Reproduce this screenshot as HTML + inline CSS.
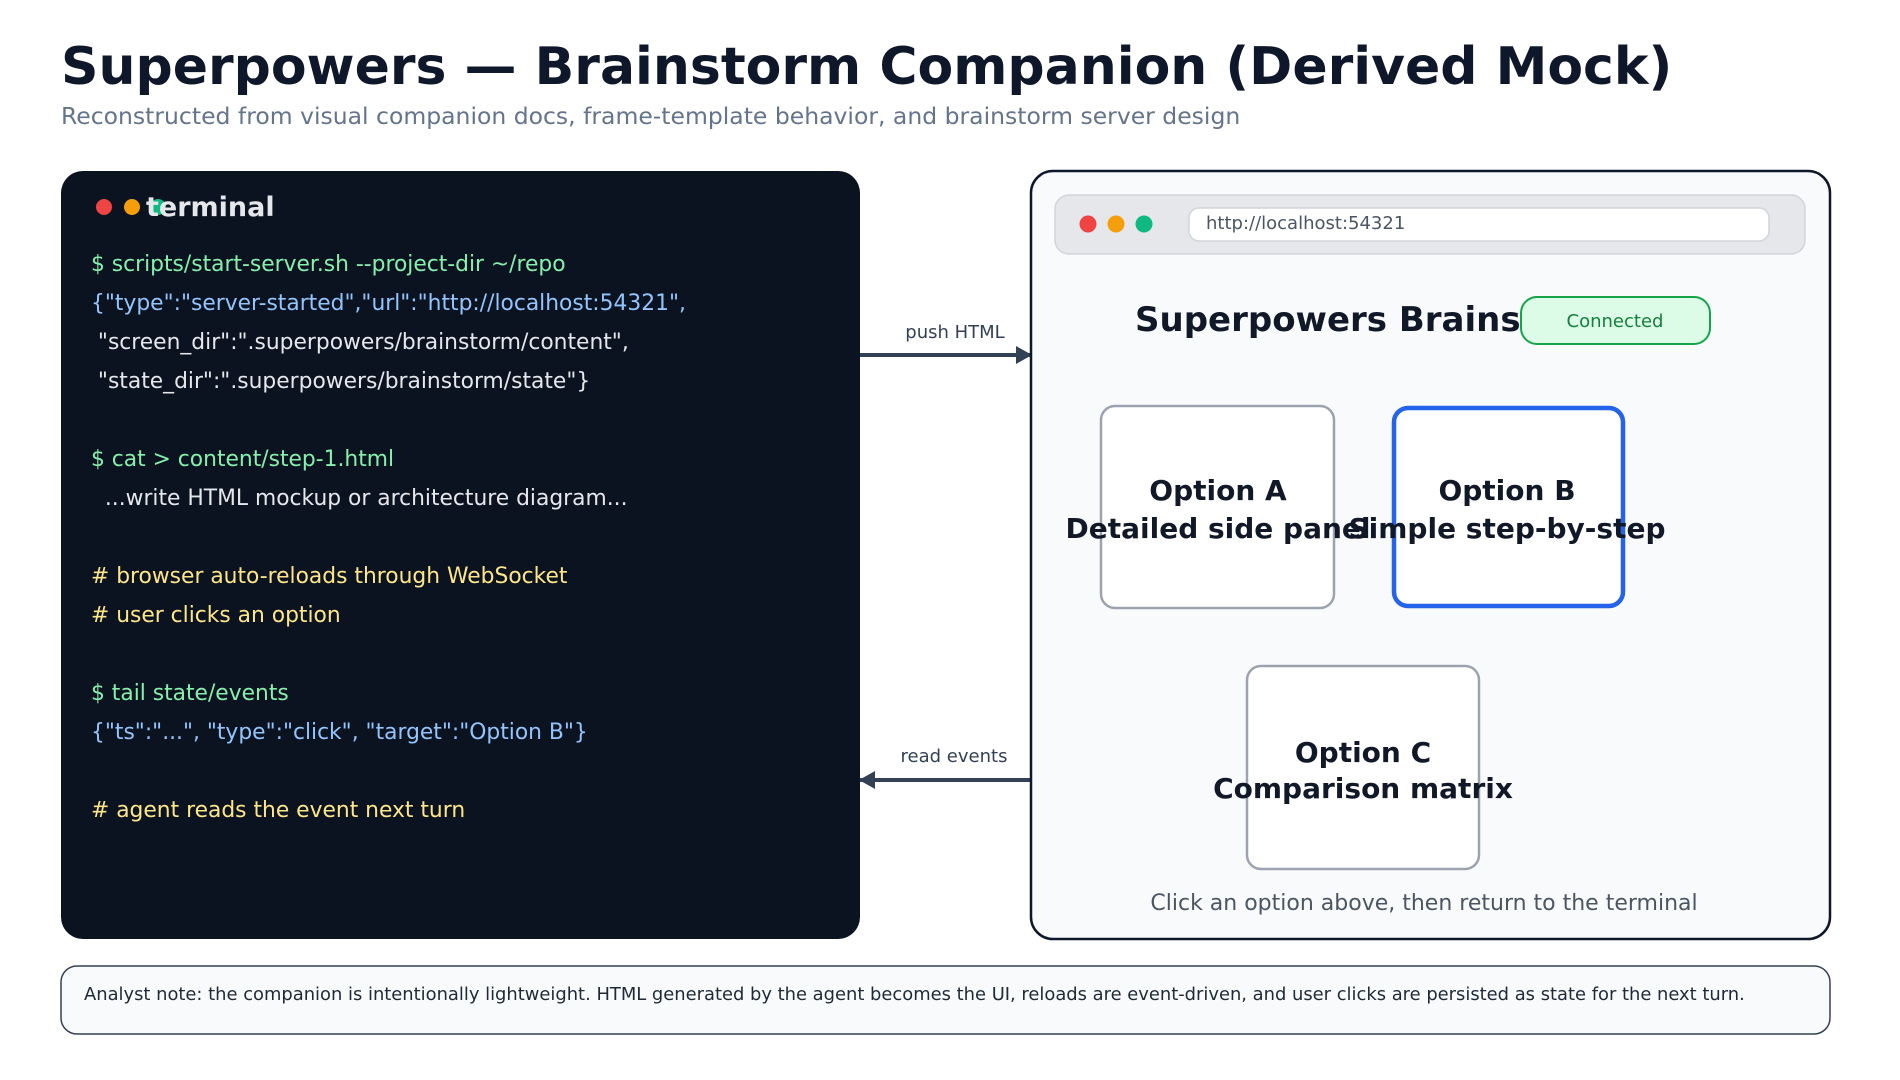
<!DOCTYPE html>
<html><head><meta charset="utf-8"><style>
html,body{margin:0;padding:0;background:#fff;}
svg{display:block;font-family:"DejaVu Sans","Liberation Sans",sans-serif;}
</style></head><body>
<svg width="1900" height="1080" viewBox="0 0 1900 1080" xmlns="http://www.w3.org/2000/svg">
<defs>
<marker id="ah" markerWidth="16" markerHeight="18" refX="15" refY="9" orient="auto" markerUnits="userSpaceOnUse"><path d="M0,0 L16,9 L0,18 z" fill="#334155"/></marker>
</defs>
<text x="61" y="84" font-size="52" font-weight="bold" fill="#0f172a">Superpowers — Brainstorm Companion (Derived Mock)</text>
<text x="61" y="124" font-size="23.5" fill="#64748b">Reconstructed from visual companion docs, frame-template behavior, and brainstorm server design</text>

<rect x="61" y="171" width="799" height="768" rx="22" fill="#0b1220"/>
<circle cx="104" cy="207" r="8" fill="#ef4444"/>
<circle cx="132" cy="207" r="8" fill="#f59e0b"/>
<circle cx="158" cy="207" r="8" fill="#10b981"/>
<text x="146" y="216" font-size="27" font-weight="bold" fill="#e5e7eb">terminal</text>
<g font-size="21.8">
<text x="91" y="271" fill="#86efac">$ scripts/start-server.sh --project-dir ~/repo</text>
<text x="91" y="310" fill="#93c5fd">{"type":"server-started","url":"http://localhost:54321",</text>
<text x="91" y="349" fill="#e5e7eb" xml:space="preserve"> "screen_dir":".superpowers/brainstorm/content",</text>
<text x="91" y="388" fill="#e5e7eb" xml:space="preserve"> "state_dir":".superpowers/brainstorm/state"}</text>
<text x="91" y="466" fill="#86efac">$ cat &gt; content/step-1.html</text>
<text x="91" y="505" fill="#e5e7eb" xml:space="preserve">  ...write HTML mockup or architecture diagram...</text>
<text x="91" y="583" fill="#fde68a"># browser auto-reloads through WebSocket</text>
<text x="91" y="622" fill="#fde68a"># user clicks an option</text>
<text x="91" y="700" fill="#86efac">$ tail state/events</text>
<text x="91" y="739" fill="#93c5fd">{"ts":"...", "type":"click", "target":"Option B"}</text>
<text x="91" y="817" fill="#fde68a"># agent reads the event next turn</text>
</g>

<line x1="860" y1="355" x2="1031" y2="355" stroke="#334155" stroke-width="4" marker-end="url(#ah)"/>
<text x="955" y="338" font-size="18" fill="#334155" text-anchor="middle">push HTML</text>
<line x1="1031" y1="780" x2="860" y2="780" stroke="#334155" stroke-width="4" marker-end="url(#ah)"/>
<text x="954" y="762" font-size="18" fill="#334155" text-anchor="middle">read events</text>

<rect x="1031" y="171" width="799" height="768" rx="22" fill="#f8fafc" stroke="#0f172a" stroke-width="2.5"/>
<rect x="1055" y="195" width="750" height="59" rx="14" fill="#e5e7eb" stroke="#d1d5db" stroke-width="1.5"/>
<circle cx="1088" cy="224" r="8.5" fill="#ef4444"/>
<circle cx="1116" cy="224" r="8.5" fill="#f59e0b"/>
<circle cx="1144" cy="224" r="8.5" fill="#10b981"/>
<rect x="1189" y="208" width="580" height="33" rx="10" fill="#fff" stroke="#d1d5db" stroke-width="1.5"/>
<text x="1206" y="229" font-size="18" fill="#4b5563">http://localhost:54321</text>

<text x="1135" y="331" font-size="34" font-weight="bold" fill="#111827">Superpowers Brainstorm</text>
<rect x="1521" y="297" width="189" height="47" rx="16" fill="#dcfce7" stroke="#16a34a" stroke-width="2"/>
<text x="1615" y="327" font-size="18" fill="#15803d" text-anchor="middle">Connected</text>

<rect x="1101" y="406" width="233" height="202" rx="14" fill="#fff" stroke="#9ca3af" stroke-width="2.5"/>
<rect x="1394" y="408" width="229" height="198" rx="14" fill="#fff" stroke="#2563eb" stroke-width="4.5"/>
<rect x="1247" y="666" width="232" height="203" rx="14" fill="#fff" stroke="#9ca3af" stroke-width="2.5"/>
<g font-size="28" font-weight="bold" fill="#111827" text-anchor="middle">
<text x="1218" y="500">Option A</text>
<text x="1218" y="538">Detailed side panel</text>
<text x="1507" y="500">Option B</text>
<text x="1507" y="538">Simple step-by-step</text>
<text x="1363" y="762">Option C</text>
<text x="1363" y="798">Comparison matrix</text>
</g>
<text x="1424" y="910" font-size="22" fill="#4b5563" text-anchor="middle">Click an option above, then return to the terminal</text>

<rect x="61" y="966" width="1769" height="68" rx="16" fill="#f8fafc" stroke="#334155" stroke-width="1.5"/>
<text x="84" y="1000" font-size="17.9" fill="#1f2937">Analyst note: the companion is intentionally lightweight. HTML generated by the agent becomes the UI, reloads are event-driven, and user clicks are persisted as state for the next turn.</text>
</svg>
</body></html>
